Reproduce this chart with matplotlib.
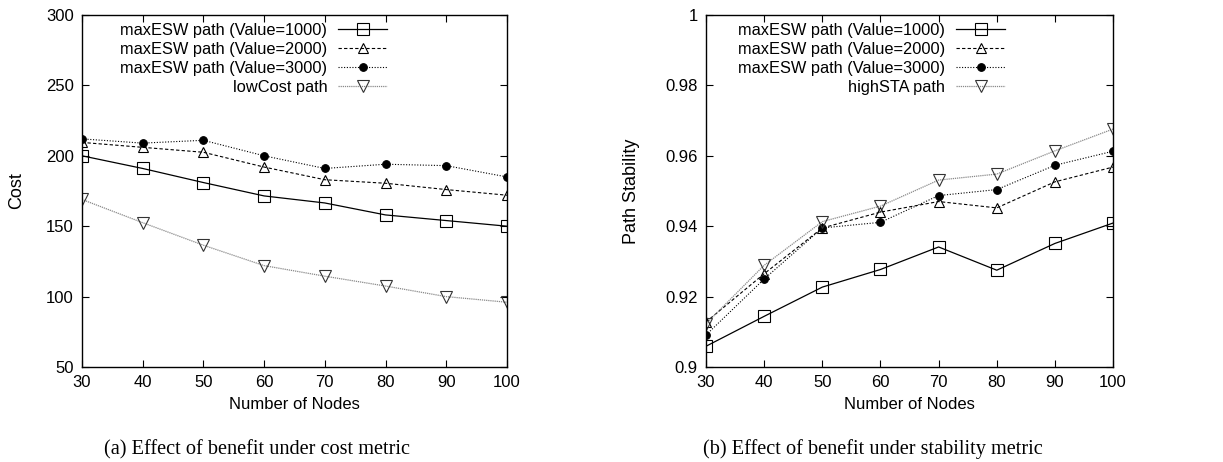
import matplotlib
matplotlib.use("Agg")
import matplotlib.pyplot as plt

nodes = [30, 40, 50, 60, 70, 80, 90, 100]

cost_v1000 = [200, 191, 181, 171.5, 166.5, 158, 154, 150]
cost_v2000 = [209.5, 206, 202.5, 192, 183, 180.5, 176, 172]
cost_v3000 = [212, 209, 211, 200, 191, 194, 193, 185]
cost_low = [169, 152.5, 136.5, 122, 114.5, 107.5, 100, 96]

stab_v1000 = [0.9059, 0.9144, 0.9227, 0.9277, 0.9341, 0.9275, 0.9351, 0.9409]
stab_v2000 = [0.9128, 0.9265, 0.9395, 0.9440, 0.9470, 0.9452, 0.9526, 0.9568]
stab_v3000 = [0.9091, 0.9250, 0.9395, 0.9411, 0.9487, 0.9504, 0.9573, 0.9613]
stab_high = [0.9123, 0.9289, 0.9413, 0.9457, 0.9531, 0.9548, 0.9614, 0.9676]

labels_a = ["maxESW path (Value=1000)", "maxESW path (Value=2000)",
            "maxESW path (Value=3000)", "lowCost path"]
labels_b = ["maxESW path (Value=1000)", "maxESW path (Value=2000)",
            "maxESW path (Value=3000)", "highSTA path"]

plt.rcParams['font.family'] = ['Liberation Sans', 'DejaVu Sans']
plt.rcParams['font.size'] = 12

fig = plt.figure(figsize=(12.23, 4.62), dpi=100)
axA = fig.add_axes([0.067, 0.2056, 0.3475, 0.762])
axB = fig.add_axes([0.5773, 0.2056, 0.3328, 0.762])

styles = [
    dict(color='black', ls='-', marker='s', mfc='none', mec='black', ms=8.5, lw=0.9),
    dict(color='black', ls=(0, (3, 2)), marker='^', mfc='none', mec='black', ms=7.5, lw=0.8),
    dict(color='black', ls=(0, (1, 1.5)), marker='o', mfc='black', mec='black', ms=5.5, lw=0.8),
    dict(color='#8a8a8a', ls=(0, (1, 0.7)), marker='v', mfc='none', mec='#333333', ms=8.5, lw=0.9),
]

def draw(ax, series, labels, ylim, yticks, yticklabels, ylabel, anchor_x, ylpad):
    for s, lab, st in zip(series, labels, styles):
        ax.plot(nodes, s, label=lab, mew=0.8, **st)
    ax.set_xlim(30, 100)
    ax.set_ylim(*ylim)
    ax.set_xticks(nodes)
    ax.set_yticks(yticks)
    ax.set_yticklabels(yticklabels)
    ax.tick_params(direction='in', top=True, right=True, length=5, width=0.8,
                   labelsize=12, pad=6)
    for sp in ax.spines.values():
        sp.set_linewidth(1.0)
    ax.set_xlabel("Number of Nodes", fontsize=12, labelpad=5)
    ax.set_ylabel(ylabel, fontsize=13, labelpad=ylpad)
    ax.legend(loc='upper right', bbox_to_anchor=(anchor_x, 0.978), frameon=False,
              markerfirst=False, handlelength=3.0, handletextpad=0.65,
              labelspacing=0.24, borderaxespad=0.0, borderpad=0.0, fontsize=11.8)

draw(axA, [cost_v1000, cost_v2000, cost_v3000, cost_low], labels_a,
     (50, 300), [50, 100, 150, 200, 250, 300],
     ["50", "100", "150", "200", "250", "300"], "Cost", 0.718, 15)
draw(axB, [stab_v1000, stab_v2000, stab_v3000, stab_high], labels_b,
     (0.9, 1.0), [0.9, 0.92, 0.94, 0.96, 0.98, 1.0],
     ["0.9", "0.92", "0.94", "0.96", "0.98", "1"], "Path Stability", 0.735, 18)

serif = ['Liberation Serif', 'DejaVu Serif']
fig.text(0.210, 0.027, "(a) Effect of benefit under cost metric", ha='center',
         va='center', family=serif, fontsize=14.6)
fig.text(0.714, 0.027, "(b) Effect of benefit under stability metric", ha='center',
         va='center', family=serif, fontsize=14.6)

fig.savefig("out.png", dpi=100)
